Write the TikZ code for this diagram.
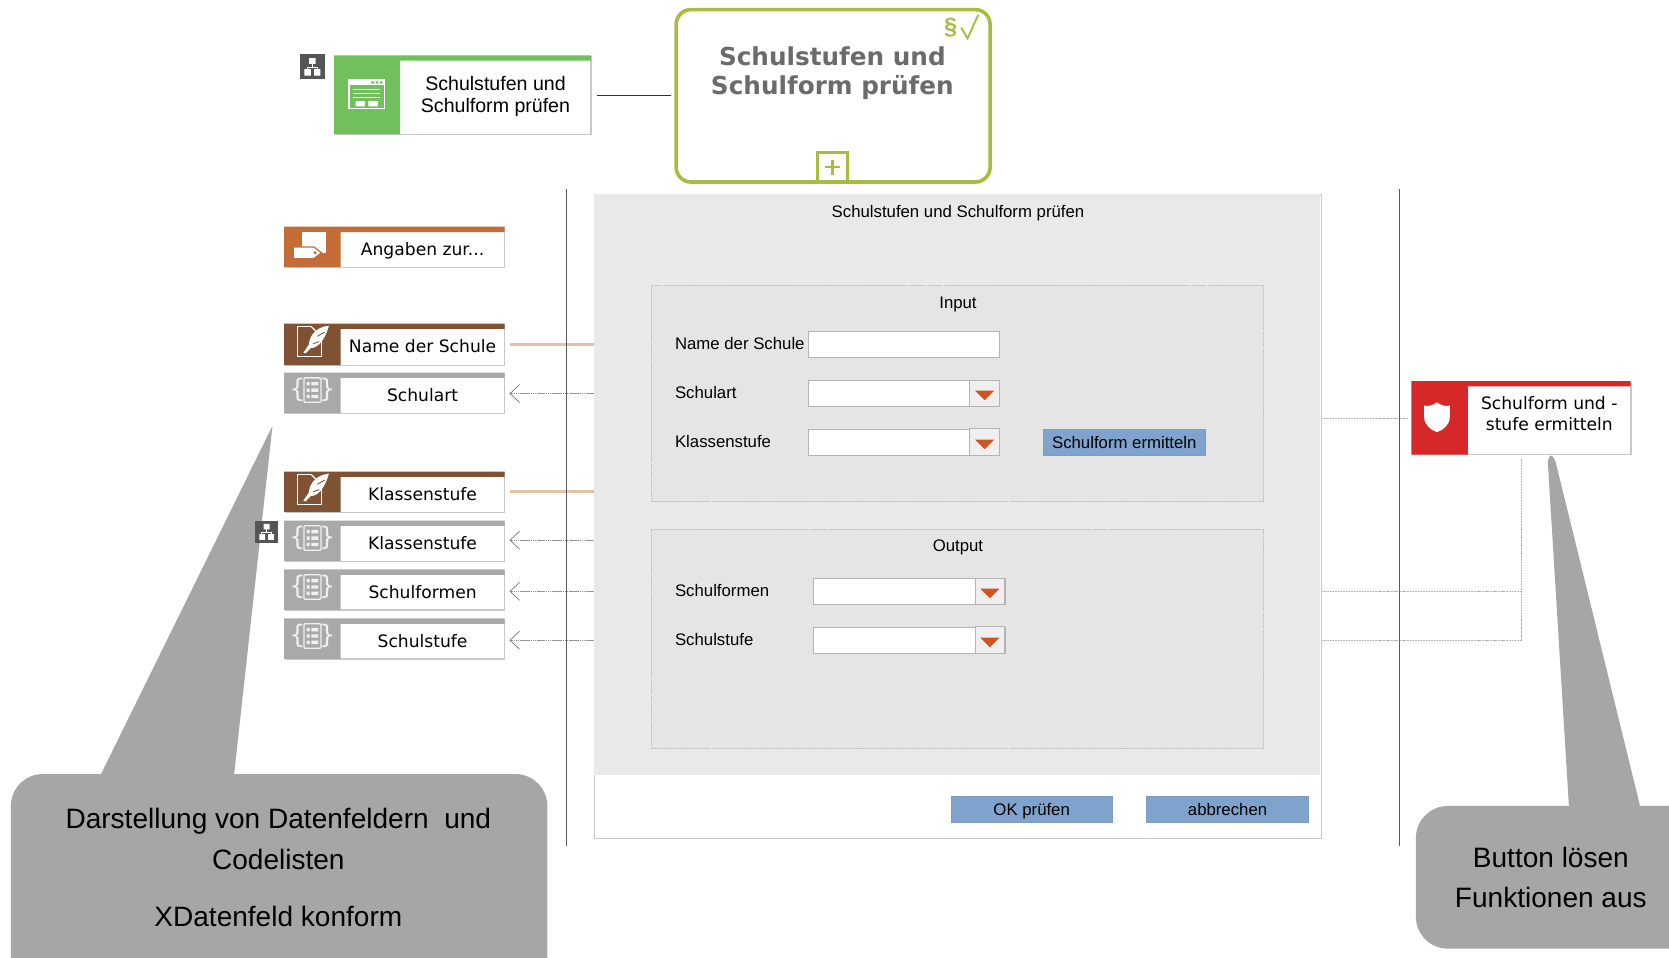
\documentclass[tikz,border=0pt]{standalone}
\usepackage{fontspec}
\setmainfont{Liberation Sans}
\newfontfamily\verd{DejaVu Sans}
\usetikzlibrary{arrows.meta}
\definecolor{cgreen}{HTML}{72BF5E}
\definecolor{cbrown}{HTML}{7F5233}
\definecolor{corange}{HTML}{C46C35}
\definecolor{cgray}{HTML}{A9A9A9}
\definecolor{cred}{HTML}{D62828}
\definecolor{colive}{HTML}{A9BC3F}
\definecolor{cborder}{HTML}{C8C8C8}
\definecolor{ctan}{HTML}{E3C2AC}
\definecolor{cblue}{HTML}{7FA3CC}
\definecolor{ccall}{HTML}{A6A6A6}
\definecolor{cpanel}{HTML}{E9E9E9}
\definecolor{cinner}{HTML}{E5E5E5}
\definecolor{cdark}{HTML}{555555}
\definecolor{ctri}{HTML}{CF5520}
\tikzset{
 cardbody/.style={draw=cborder,line width=1.2pt,fill=white,inner sep=0pt,anchor=north west},
 cardtext/.style={font=\verd\fontsize{16.1}{19.5}\selectfont,text=black,align=center,inner sep=0pt},
 cardtweak/.style={},
 formtext/.style={font=\fontsize{15.75}{19}\selectfont,text=black,inner sep=0pt},
 fieldbox/.style={draw=cborder!90!black,line width=.9pt,fill=white,inner sep=0pt,anchor=north west},
 btn/.style={fill=cblue,draw=cblue!80!gray,line width=.5pt,inner sep=0pt,anchor=north west,font=\fontsize{15.75}{19}\selectfont,text=black,text height=11.5pt,text depth=0pt},
 group/.style={draw=cborder,dashed,dash pattern=on 7pt off 1pt,line width=.9pt,fill=cinner,inner sep=0pt,anchor=north west},
 conn/.style={draw=black!42,line width=.5pt,dash pattern=on 1.5pt off .5pt},
 connr/.style={draw=black!30,line width=.6pt,dash pattern=on 1pt off .5pt},
 bigtext/.style={font=\fontsize{26.35}{32}\selectfont,text=black,inner sep=0pt},
 tanline/.style={draw=ctan,line width=2.4pt},
 open/.style={-{Straight Barb[length=9pt,width=17pt,line width=.5pt,black!65]}},
}
% #1 name, #2 x, #3 y, #4 w, #5 h, #6 left w, #7 colour, #8 text
\newcommand{\card}[8]{%
 \node[cardbody,minimum width={(#4-1)*1pt},minimum height={(#5-1)*1pt}] (#1) at (#2+.6,#3+.6) {};
 \fill[#7] (#2,#3) rectangle ++(#4,5) (#2,#3) rectangle ++(#6,#5);
 \node[cardtext,cardtweak] (#1-t) at ({#2+#6+(#4-#6)/2},{#3+#5/2+2}) {#8};
}
\newcommand{\quillicon}[2]{\begin{scope}[shift={(#1,#2)}]
 \draw[white,line width=1.1pt] (25,2.5) -- (12.5,2.5) -- (12.5,31) -- (35,31) -- (35,14);
 \draw[white,line width=1.1pt] (25,2.5) -- (35,12);
 \fill[white] (42,2) .. controls (31,3) and (24,10) .. (23,20) -- (18,27.5) -- (20,28) -- (25,23) .. controls (33,23) and (39,13) .. (42,2) -- cycle;
 \draw[cbrown,line width=.8pt] (38,8) -- (31,12) (33,17) -- (27,19);
\end{scope}}
\newcommand{\codeicon}[2]{\begin{scope}[shift={(#1,#2)}]
 \node[text=white!88!gray,inner sep=0pt,font=\verd\fontsize{24}{24}\selectfont] at (12.5,16.5) {\{};
 \node[text=white!88!gray,inner sep=0pt,font=\verd\fontsize{24}{24}\selectfont] at (40.5,16.5) {\}};
 \draw[white!88!gray,line width=1.2pt,rounded corners=1pt] (18.5,5) rectangle (34.5,28);
 \foreach \yy in {10.5,16.5,22.5}{\fill[white!88!gray] (21,\yy-1.6) rectangle ++(3,3.2) (25.5,\yy-1.6) rectangle ++(6.5,3.2);}
\end{scope}}
\newcommand{\orgicon}[3]{\begin{scope}[shift={(#1,#2)}]
 \fill[cdark] (0,0) rectangle (#3,#3);
 \begin{scope}[scale=#3/23]
 \fill[white] (8.5,3.5) rectangle (14.5,9) (4,14) rectangle (10,20) (13,14) rectangle (19,20);
 \draw[white,line width=1pt] (11.5,9) -- (11.5,12) (6.5,14) -- (6.5,12) -- (16.5,12) -- (16.5,14);
 \end{scope}
\end{scope}}
\newcommand{\combo}[4]{% name, x, y, w
 \node[fieldbox,minimum width=#4pt,minimum height=24.5pt] (#1) at (#2,#3) {};
 \draw[cborder!90!black,line width=.9pt,fill=cinner!60!white] ({#2+#4-28},#3) rectangle ({#2+#4},{#3+24.5});
 \fill[ctri] ({#2+#4-23},{#3+10}) -- ({#2+#4-5},{#3+10}) -- ({#2+#4-14},{#3+19}) -- cycle;
}
\begin{document}
\begin{tikzpicture}[x=1pt,y=-1pt]
\path[use as bounding box,clip] (0,0) rectangle (1568,900);
\fill[white] (0,0) rectangle (1568,900);

% callouts
\fill[ccall] (95,727) -- (256,400) -- (220,727) -- cycle;
\fill[ccall,rounded corners=2pt] (1474,758) -- (1454,432) -- (1457,427) -- (1461,432) -- (1541,758) -- cycle;
\node[fill=ccall,rounded corners=30pt,anchor=north west,minimum width=504pt,minimum height=230pt,inner sep=0pt] (calloutL) at (10,727) {};
\node[fill=ccall,rounded corners=30pt,anchor=north west,minimum width=300pt,minimum height=134pt,inner sep=0pt] (calloutR) at (1330,757) {};
\node[bigtext] (cl1) at (261.5,772) {Darstellung von Datenfeldern\ \ und};
\node[bigtext] (cl2) at (261.5,807) {Codelisten};
\node[bigtext] (cl3) at (261.5,861) {XDatenfeld konform};
\node[bigtext] (cr1) at (1457,806) {Button lösen};
\node[bigtext] (cr2) at (1457,843) {Funktionen aus};

% top row
\orgicon{282}{51}{23}
\begingroup
\tikzset{cardtext/.append style={font=\fontsize{18.4}{20}\selectfont},cardtweak/.style={yshift=.3pt}}
\card{sheet}{314}{52}{241}{74}{62}{cgreen}{Schulstufen und\\Schulform prüfen}
\endgroup
\begin{scope}[shift={(328,75)}]
 \draw[white,line width=1.2pt] (0,0) rectangle (33,27);
 \fill[white] (0,0) rectangle (33,5);
 \fill[cgreen] (21,1.5) rectangle ++(2.5,2) (25,1.5) rectangle ++(2.5,2) (29,1.5) rectangle ++(2.5,2);
 \draw[white,line width=1pt] (4,9) -- (29,9) (4,13) -- (29,13) (4,17) -- (29,17);
 \fill[white] (6,20) rectangle (15,25) (18,20) rectangle (27,25);
\end{scope}
\node[draw=colive,line width=3.4pt,rounded corners=14pt,minimum width=295pt,minimum height=162pt,inner sep=0pt,anchor=north west,fill=white] (proc) at (633.5,7.3) {};
\node[font=\verd\bfseries\fontsize{23.2}{27}\selectfont,text=black!58,align=center,inner sep=0pt,anchor=north] (proct) at (782,44) {Schulstufen und\\Schulform prüfen};
\node[text=colive,font=\bfseries\fontsize{22}{22}\selectfont,inner sep=0pt] (procs) at (893,26) {§};
\draw[colive,line width=1.8pt] (903,26) -- (909,36) -- (919,14);
\node[draw=colive,line width=3pt,fill=white,minimum width=28pt,minimum height=27pt,inner sep=0pt] (plus) at (782,157) {};
\draw[colive,line width=2.2pt] (775,157) -- (789,157) (782,150) -- (782,164);
\draw[black!80,line width=.9pt] ([xshift=5pt]sheet.east) -- ([xshift=-3pt]proc.west |- sheet.east);

% swimlane lines
\coordinate (laneLt) at (532,178); \coordinate (laneLb) at (532,795);
\coordinate (laneRt) at (1315,178); \coordinate (laneRb) at (1315,795);

% panel
\node[draw=cborder,line width=1pt,fill=white,anchor=north west,minimum width=683pt,minimum height=605pt,inner sep=0pt] (panel) at (558,182) {};
\fill[cpanel] (558.5,182.5) rectangle (1240.5,728);
\node[formtext] (ptitle) at (900,200.5) {Schulstufen und Schulform prüfen};
\node[group,minimum width=575pt,minimum height=203pt] (inbox) at (612,268) {};
\node[group,minimum width=575pt,minimum height=206pt] (outbox) at (612,497) {};
\node[formtext] (inl) at (900,286.5) {Input};
\node[formtext] (outl) at (900,514.5) {Output};
\node[formtext,anchor=west] (l1) at (634,323) {Name der Schule};
\node[fieldbox,minimum width=180pt,minimum height=24.5pt] (f1) at (759,311) {};
\node[formtext,anchor=west] (l2) at (634,369) {Schulart};
\combo{f2}{759}{357}{180}
\node[formtext,anchor=west] (l3) at (634,415) {Klassenstufe};
\combo{f3}{759}{403}{180}
\node[btn,minimum width=152pt,minimum height=24.5pt] (bErm) at (980,403) {Schulform ermitteln};
\node[formtext,anchor=west] (l4) at (634,555) {Schulformen};
\combo{f4}{764}{543}{180}
\node[formtext,anchor=west] (l5) at (634,601) {Schulstufe};
\combo{f5}{764}{589}{180}
\node[btn,minimum width=152pt,minimum height=24.5pt] (bOk) at (893,748) {OK prüfen};
\node[btn,minimum width=152pt,minimum height=24.5pt] (bAb) at (1077,748) {abbrechen};

% left cards
\begingroup
\tikzset{cardtweak/.style={yshift=-2pt}}
\card{angaben}{267}{213}{207}{38}{53}{corange}{Angaben zur...}
\endgroup
\begin{scope}[shift={(267,213)}]
 \fill[white] (17,5) -- (39,5) -- (39,25) -- (17,25) -- cycle;
 \draw[corange,line width=1.2pt,fill=white] (8.5,19) -- (28,19) -- (35,24.5) -- (28,30) -- (8.5,30) -- cycle;
 \fill[corange] (29,24.5) circle (1.6);
\end{scope}
\card{name}{267}{304}{207}{39}{53}{cbrown}{Name der Schule}
\quillicon{267}{304}
\card{schulart}{267}{350}{207}{38}{53}{cgray}{Schulart}
\codeicon{267}{350}
\card{kl1}{267}{443}{207}{38}{53}{cbrown}{Klassenstufe}
\quillicon{267}{443}
\card{kl2}{267}{489}{207}{38}{53}{cgray}{Klassenstufe}
\codeicon{267}{489}
\card{formen}{267}{535}{207}{38}{53}{cgray}{Schulformen}
\codeicon{267}{535}
\card{stufe}{267}{581}{207}{38}{53}{cgray}{Schulstufe}
\codeicon{267}{581}
\orgicon{240}{489}{21}

% right card
\begingroup
\tikzset{cardtweak/.style={yshift=6pt}}
\card{func}{1326}{358}{206}{69}{53}{cred}{Schulform und -\\stufe ermitteln}
\endgroup
\fill[white] (1350,378) .. controls (1346,381) and (1342,382) .. (1338,381) -- (1338,392) .. controls (1338,399) and (1344,404) .. (1350,406) .. controls (1356,404) and (1362,399) .. (1362,392) -- (1362,381) .. controls (1358,382) and (1354,381) .. (1350,378) -- cycle;

% connectors
\draw[tanline] ([xshift=4pt,yshift=.7pt]name.east) -- ([yshift=.7pt]panel.west |- name.east);
\draw[tanline] ([xshift=4pt,yshift=.7pt]kl1.east) -- ([yshift=.7pt]panel.west |- kl1.east);
\draw[conn,open] (panel.west |- schulart.east) -- ([xshift=4pt]schulart.east);
\draw[conn,open] ([yshift=1.2pt]panel.west |- kl2.east) -- ([xshift=4pt,yshift=1.2pt]kl2.east);
\draw[conn,open] ([yshift=-.8pt]panel.west |- formen.east) -- ([xshift=4pt,yshift=-.8pt]formen.east);
\draw[conn,open] ([yshift=-.8pt]panel.west |- stufe.east) -- ([xshift=4pt,yshift=-.8pt]stufe.east);
\coordinate (funcW) at (1322,393);
\draw[connr] (panel.east |- funcW) -- (funcW);
\coordinate (fy1) at (1429,555.5);
\coordinate (fy2) at (1429,601.5);
\coordinate (ftop) at (1429,431);
\draw[connr] (panel.east |- fy1) -- (fy1);
\draw[connr] (panel.east |- fy2) -- (fy2) -- (ftop);

% lane lines on top
\draw[black!65,line width=.9pt] (laneLt) -- (laneLb);
\draw[black!65,line width=.9pt] (laneRt) -- (laneRb);
\end{tikzpicture}
\end{document}
